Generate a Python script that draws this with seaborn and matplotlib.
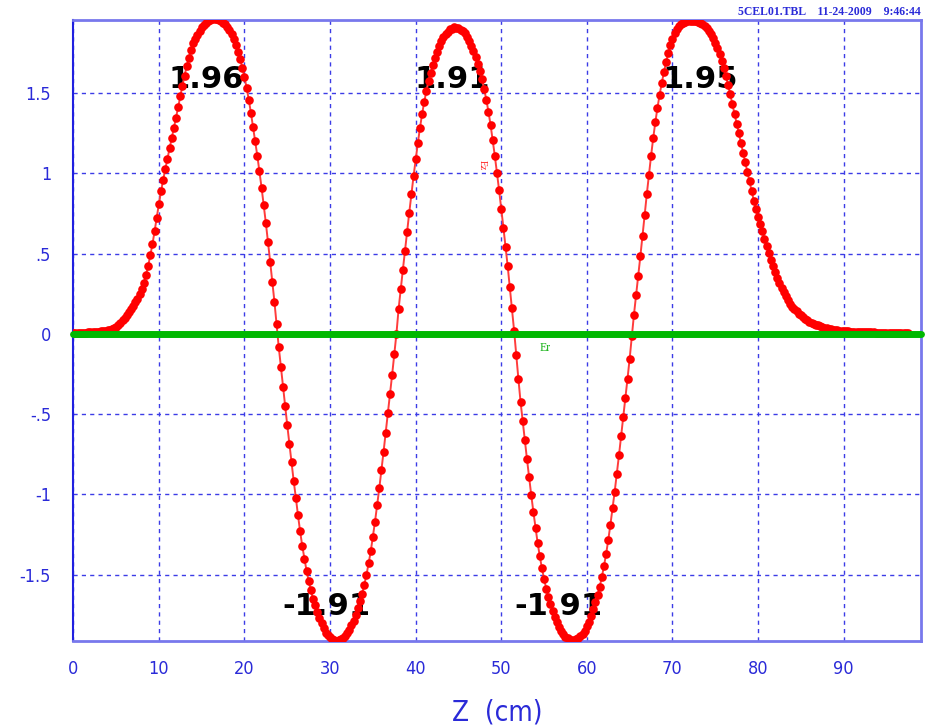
import numpy as np
import pandas as pd
import matplotlib
matplotlib.use("Agg")
import matplotlib.pyplot as plt
import seaborn as sns

# ---------------- data ----------------
z_start, z_step = 0.0, 0.25          # sampling grid of the Ez table (cm)
ez = [
    0.005, 0.005, 0.006, 0.006, 0.007, 0.007, 0.008, 0.009, 0.010, 0.011, 0.012, 0.013, 0.015, 0.016, 0.018, 0.020, 0.022, 0.025, 0.030, 0.037,
    0.045, 0.056, 0.070, 0.084, 0.100, 0.117, 0.135, 0.155, 0.175, 0.197, 0.220, 0.247, 0.280, 0.320, 0.370, 0.425, 0.490, 0.560, 0.640, 0.725,
    0.810, 0.888, 0.960, 1.027, 1.090, 1.156, 1.220, 1.283, 1.345, 1.412, 1.480, 1.547, 1.610, 1.668, 1.720, 1.768, 1.810, 1.840, 1.865, 1.890,
    1.910, 1.927, 1.940, 1.949, 1.955, 1.959, 1.960, 1.959, 1.955, 1.949, 1.940, 1.929, 1.915, 1.895, 1.870, 1.838, 1.800, 1.758, 1.710, 1.658,
    1.600, 1.533, 1.460, 1.378, 1.290, 1.202, 1.110, 1.012, 0.910, 0.802, 0.690, 0.572, 0.450, 0.326, 0.200, 0.060, -0.080, -0.204, -0.330, -0.446,
    -0.570, -0.686, -0.800, -0.917, -1.020, -1.129, -1.230, -1.321, -1.400, -1.475, -1.540, -1.598, -1.650, -1.691, -1.730, -1.772, -1.800, -1.834, -1.860, -1.876,
    -1.890, -1.898, -1.905, -1.910, -1.908, -1.901, -1.892, -1.882, -1.864, -1.844, -1.816, -1.786, -1.748, -1.708, -1.664, -1.619, -1.562, -1.502, -1.430, -1.355,
    -1.264, -1.169, -1.066, -0.961, -0.848, -0.733, -0.614, -0.494, -0.374, -0.254, -0.128, 0.000, 0.153, 0.278, 0.398, 0.518, 0.638, 0.756, 0.871, 0.982,
    1.087, 1.188, 1.283, 1.370, 1.445, 1.514, 1.574, 1.628, 1.673, 1.716, 1.756, 1.792, 1.822, 1.848, 1.868, 1.884, 1.897, 1.902, 1.910, 1.908,
    1.907, 1.896, 1.886, 1.872, 1.852, 1.828, 1.796, 1.764, 1.724, 1.682, 1.637, 1.586, 1.526, 1.460, 1.385, 1.302, 1.207, 1.108, 1.003, 0.894,
    0.779, 0.662, 0.542, 0.422, 0.290, 0.160, 0.020, -0.130, -0.280, -0.422, -0.542, -0.662, -0.779, -0.894, -1.003, -1.108, -1.207, -1.302, -1.385, -1.460,
    -1.526, -1.586, -1.637, -1.682, -1.724, -1.764, -1.796, -1.828, -1.852, -1.872, -1.886, -1.896, -1.907, -1.908, -1.910, -1.902, -1.897, -1.884, -1.868, -1.848,
    -1.822, -1.792, -1.756, -1.716, -1.673, -1.628, -1.574, -1.514, -1.445, -1.370, -1.283, -1.188, -1.087, -0.982, -0.871, -0.756, -0.638, -0.518, -0.398, -0.278,
    -0.153, -0.015, 0.120, 0.240, 0.360, 0.485, 0.610, 0.740, 0.870, 0.990, 1.110, 1.220, 1.320, 1.410, 1.490, 1.565, 1.630, 1.693, 1.750, 1.798,
    1.840, 1.875, 1.900, 1.918, 1.930, 1.939, 1.945, 1.948, 1.950, 1.951, 1.950, 1.948, 1.945, 1.938, 1.930, 1.919, 1.905, 1.889, 1.870, 1.845,
    1.815, 1.782, 1.745, 1.702, 1.655, 1.604, 1.550, 1.492, 1.430, 1.370, 1.310, 1.250, 1.190, 1.130, 1.070, 1.010, 0.950, 0.890, 0.830, 0.778,
    0.730, 0.684, 0.640, 0.592, 0.545, 0.502, 0.460, 0.421, 0.385, 0.349, 0.315, 0.286, 0.260, 0.234, 0.210, 0.189, 0.170, 0.154, 0.140, 0.127,
    0.115, 0.103, 0.093, 0.085, 0.077, 0.070, 0.064, 0.058, 0.053, 0.048, 0.044, 0.040, 0.036, 0.033, 0.030, 0.027, 0.025, 0.023, 0.021, 0.019,
    0.018, 0.017, 0.016, 0.015, 0.014, 0.0135, 0.013, 0.0125, 0.012, 0.0115, 0.011, 0.0105, 0.010, 0.0095, 0.009, 0.0085, 0.008, 0.0075, 0.007, 0.007,
    0.007, 0.0065, 0.006, 0.006, 0.006, 0.0055, 0.005, 0.005, 0.005, 0.005, 0.005,
]
z = z_start + z_step * np.arange(len(ez))

er_z = [0.0, 25.0, 50.0, 75.0, 99.0]
er = [0.0, 0.0, 0.0, 0.0, 0.0]

peak_labels = ["1.96", "1.91", "1.95", "-1.91", "-1.91"]
peak_label_x = [15.5, 44.3, 73.3, 29.6, 56.7]
peak_label_y = [1.585, 1.585, 1.585, -1.70, -1.70]

x_ticks = [0, 10, 20, 30, 40, 50, 60, 70, 80, 90]
x_tick_labels = ["0", "10", "20", "30", "40", "50", "60", "70", "80", "90"]
y_ticks = [-1.5, -1.0, -0.5, 0.0, 0.5, 1.0, 1.5]
y_tick_labels = ["-1.5", "-1", "-.5", "0", ".5", "1", "1.5"]

header = "5CEL01.TBL    11-24-2009    9:46:44"
x_label = "Z  (cm)"

# ---------------- styling ----------------
sns.set_style("white")
plt.rcParams["font.family"] = ["DejaVu Sans"]
plt.rcParams["font.stretch"] = "condensed"

BLUE = "#2a2ad8"
fig = plt.figure(figsize=(9.3, 7.26), dpi=100)
ax = fig.add_axes([0.0788, 0.1175, 0.9112, 0.855])

df = pd.DataFrame({"z": z, "ez": ez})
sns.lineplot(data=df, x="z", y="ez", ax=ax, color="#ff3c3c", lw=1.4,
             marker="o", markersize=6.2, markerfacecolor="#ff0000",
             markeredgecolor="#ff0000", markeredgewidth=0, zorder=3,
             sort=True, estimator=None)
sns.lineplot(x=er_z, y=er, ax=ax, color="#00b800", lw=5, zorder=4,
             solid_capstyle="round", estimator=None)
ax.get_lines()[-1].set_clip_on(False)

ax.set_xlim(0, 99)
ax.set_ylim(-1.911, 1.956)
ax.set_xticks(x_ticks)
ax.set_xticklabels(x_tick_labels)
ax.set_yticks(y_ticks)
ax.set_yticklabels(y_tick_labels)
ax.tick_params(axis="both", length=0, labelcolor=BLUE, labelsize=13)
ax.tick_params(axis="x", pad=14)
ax.tick_params(axis="y", pad=16)
for lbl in ax.get_xticklabels() + ax.get_yticklabels():
    lbl.set_fontstretch("condensed")
ax.set_xlabel("")
ax.set_ylabel("")

ax.grid(True, color="#3c3ce6", ls=(0, (3, 3)), lw=1.0)
ax.set_axisbelow(True)
for side in ["top", "right", "bottom"]:
    ax.spines[side].set_color("#7878ec")
    ax.spines[side].set_linewidth(2)
ax.spines["left"].set_color("#2020e0")
ax.spines["left"].set_linewidth(1.5)

for txt, xx, yy in zip(peak_labels, peak_label_x, peak_label_y):
    ax.text(xx, yy, txt, ha="center", va="center", fontsize=22,
            fontweight="bold", fontstretch="normal", family=["DejaVu Sans"],
            color="black", zorder=2)

ax.text(47.8, 1.05, "Ez", rotation=-90, color="#ff2020", fontsize=7,
        family=["Liberation Serif", "DejaVu Serif"], ha="center", va="center", zorder=5)
ax.text(55.1, -0.09, "Er", color="#10b010", fontsize=8.5,
        family=["Liberation Serif", "DejaVu Serif"], ha="center", va="center", zorder=5)

fig.text(0.99, 1 - 12 / 726, header, ha="right", va="center", fontsize=8.5,
         fontweight="bold", color=BLUE, family=["Liberation Serif", "DejaVu Serif"])
fig.text(497 / 930, 1 - 712 / 726, x_label, ha="center", va="center",
         fontsize=20, color=BLUE, fontstretch="condensed")

fig.savefig("out.png", dpi=100)
